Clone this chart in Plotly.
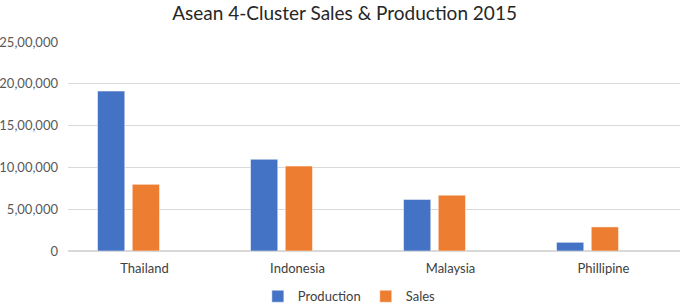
import plotly.graph_objects as go

countries = ["Thailand", "Indonesia", "Malaysia", "Phillipine"]
production = [1913000, 1097000, 617000, 104000]
sales = [797000, 1016000, 668000, 288000]
tick_vals = [0, 500000, 1000000, 1500000, 2000000, 2500000]
tick_text = ["0", "5,00,000", "10,00,000", "15,00,000", "20,00,000", "25,00,000"]

font_family = "Lato, 'Open Sans', sans-serif"

fig = go.Figure()
fig.add_trace(go.Bar(x=countries, y=production, name="Production",
                     marker=dict(color="#4472C4", line=dict(color="white", width=0.5)),
                     width=0.178, offset=-0.307))
fig.add_trace(go.Bar(x=countries, y=sales, name="Sales",
                     marker=dict(color="#ED7D31", line=dict(color="white", width=0.5)),
                     width=0.178, offset=-0.08))

fig.update_layout(
    width=685, height=307,
    margin=dict(l=68, r=5, t=42, b=56),
    paper_bgcolor="white", plot_bgcolor="white",
    title=dict(text="Asean 4-Cluster Sales & Production 2015", x=0.503, xanchor="center",
               xref="container", y=0.955, yanchor="middle",
               font=dict(family=font_family, size=19, color="#262626")),
    barmode="overlay",
    showlegend=True,
    legend=dict(orientation="h", x=0.51, xanchor="center", xref="container",
                y=0.035, yanchor="middle", yref="container",
                font=dict(family=font_family, size=13, color="#404040"),
                itemwidth=30, traceorder="normal"),
    font=dict(family=font_family, size=13, color="#595959"),
)
fig.update_xaxes(range=[-0.5, 3.5], showgrid=False, showline=False, ticks="", automargin=False,
                 ticklabelstandoff=8, tickfont=dict(size=13, color="#404040"))
fig.update_yaxes(range=[0, 2500000], tickvals=tick_vals, ticktext=tick_text,
                 showgrid=True, gridcolor="#D9D9D9", gridwidth=1,
                 zeroline=True, zerolinecolor="#D9D9D9", zerolinewidth=1.5,
                 showline=False, ticks="", ticklabelstandoff=9, automargin=False,
                 tickfont=dict(size=13, color="#595959"))

fig.write_html("out.html", config={"displayModeBar": False},
               post_script="document.body.style.margin='0';")
